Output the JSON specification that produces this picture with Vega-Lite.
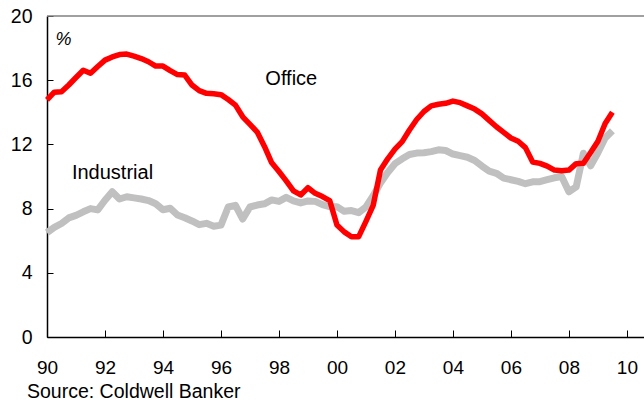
{
  "$schema": "https://vega.github.io/schema/vega-lite/v6.json",
  "width": 597,
  "height": 321,
  "autosize": {"type": "none"},
  "padding": {"left": 47, "top": 16, "right": 0, "bottom": 68},
  "config": {"view": {"stroke": null}, "font": "Liberation Sans"},
  "title": {"text": "Source: Coldwell Banker", "orient": "bottom", "anchor": "start", "frame": "group", "font": "Liberation Sans", "fontSize": 19.5, "fontWeight": "normal", "color": "black", "offset": 6, "dx": -20},
  "data": {"values": [
    {"t": 1990.0, "o": 14.77, "i": 6.5},
    {"t": 1990.25, "o": 15.25, "i": 6.83},
    {"t": 1990.5, "o": 15.28, "i": 7.07},
    {"t": 1990.75, "o": 15.7, "i": 7.42},
    {"t": 1991.0, "o": 16.17, "i": 7.58},
    {"t": 1991.25, "o": 16.62, "i": 7.8},
    {"t": 1991.5, "o": 16.43, "i": 8.0},
    {"t": 1991.75, "o": 16.85, "i": 7.92},
    {"t": 1992.0, "o": 17.25, "i": 8.52},
    {"t": 1992.25, "o": 17.45, "i": 9.05},
    {"t": 1992.5, "o": 17.6, "i": 8.6},
    {"t": 1992.75, "o": 17.63, "i": 8.74},
    {"t": 1993.0, "o": 17.5, "i": 8.67},
    {"t": 1993.25, "o": 17.35, "i": 8.6},
    {"t": 1993.5, "o": 17.15, "i": 8.5},
    {"t": 1993.75, "o": 16.88, "i": 8.3},
    {"t": 1994.0, "o": 16.88, "i": 7.93},
    {"t": 1994.25, "o": 16.6, "i": 8.02},
    {"t": 1994.5, "o": 16.35, "i": 7.6},
    {"t": 1994.75, "o": 16.32, "i": 7.43},
    {"t": 1995.0, "o": 15.7, "i": 7.23},
    {"t": 1995.25, "o": 15.35, "i": 7.0},
    {"t": 1995.5, "o": 15.18, "i": 7.08},
    {"t": 1995.75, "o": 15.15, "i": 6.9},
    {"t": 1996.0, "o": 15.1, "i": 6.97},
    {"t": 1996.25, "o": 14.8, "i": 8.1},
    {"t": 1996.5, "o": 14.45, "i": 8.2},
    {"t": 1996.75, "o": 13.72, "i": 7.35},
    {"t": 1997.0, "o": 13.25, "i": 8.1},
    {"t": 1997.25, "o": 12.77, "i": 8.22},
    {"t": 1997.5, "o": 11.87, "i": 8.3},
    {"t": 1997.75, "o": 10.85, "i": 8.54},
    {"t": 1998.0, "o": 10.31, "i": 8.45},
    {"t": 1998.25, "o": 9.73, "i": 8.7},
    {"t": 1998.5, "o": 9.1, "i": 8.48},
    {"t": 1998.75, "o": 8.85, "i": 8.35},
    {"t": 1999.0, "o": 9.3, "i": 8.48},
    {"t": 1999.25, "o": 8.95, "i": 8.45},
    {"t": 1999.5, "o": 8.75, "i": 8.25},
    {"t": 1999.75, "o": 8.5, "i": 8.12},
    {"t": 2000.0, "o": 6.98, "i": 8.12},
    {"t": 2000.25, "o": 6.55, "i": 7.83},
    {"t": 2000.5, "o": 6.25, "i": 7.88},
    {"t": 2000.75, "o": 6.25, "i": 7.75},
    {"t": 2001.0, "o": 7.2, "i": 8.1},
    {"t": 2001.25, "o": 8.2, "i": 8.8},
    {"t": 2001.5, "o": 10.4, "i": 9.6},
    {"t": 2001.75, "o": 11.1, "i": 10.25},
    {"t": 2002.0, "o": 11.7, "i": 10.8},
    {"t": 2002.25, "o": 12.17, "i": 11.1},
    {"t": 2002.5, "o": 12.9, "i": 11.37},
    {"t": 2002.75, "o": 13.55, "i": 11.46},
    {"t": 2003.0, "o": 14.05, "i": 11.48},
    {"t": 2003.25, "o": 14.4, "i": 11.55},
    {"t": 2003.5, "o": 14.5, "i": 11.66},
    {"t": 2003.75, "o": 14.56, "i": 11.62},
    {"t": 2004.0, "o": 14.7, "i": 11.4},
    {"t": 2004.25, "o": 14.6, "i": 11.3},
    {"t": 2004.5, "o": 14.4, "i": 11.2},
    {"t": 2004.75, "o": 14.2, "i": 11.0},
    {"t": 2005.0, "o": 13.9, "i": 10.65},
    {"t": 2005.25, "o": 13.5, "i": 10.33},
    {"t": 2005.5, "o": 13.1, "i": 10.2},
    {"t": 2005.75, "o": 12.75, "i": 9.9},
    {"t": 2006.0, "o": 12.4, "i": 9.8},
    {"t": 2006.25, "o": 12.2, "i": 9.7},
    {"t": 2006.5, "o": 11.8, "i": 9.55},
    {"t": 2006.75, "o": 10.9, "i": 9.67},
    {"t": 2007.0, "o": 10.82, "i": 9.68},
    {"t": 2007.25, "o": 10.65, "i": 9.8},
    {"t": 2007.5, "o": 10.4, "i": 9.92},
    {"t": 2007.75, "o": 10.36, "i": 10.0},
    {"t": 2008.0, "o": 10.4, "i": 9.05},
    {"t": 2008.25, "o": 10.8, "i": 9.35},
    {"t": 2008.5, "o": 10.82, "i": 11.45},
    {"t": 2008.75, "o": 11.5, "i": 10.67},
    {"t": 2009.0, "o": 12.2, "i": 11.48},
    {"t": 2009.25, "o": 13.3, "i": 12.4},
    {"t": 2009.5, "o": 14.0, "i": 12.85}
  ]},
  "layer": [
    {
      "data": {"values": [{}]},
      "mark": {"type": "rule", "color": "#808080", "strokeWidth": 1.5},
      "encoding": {"y": {"datum": 20, "type": "quantitative"}}
    },
    {
      "mark": {"type": "line", "color": "#c0c0c0", "strokeWidth": 7, "strokeJoin": "round"},
      "encoding": {
        "x": {"field": "t", "type": "quantitative", "scale": {"domain": [1990, 2010.59], "nice": false, "zero": false},
          "axis": {"values": [1990,1991,1992,1993,1994,1995,1996,1997,1998,1999,2000,2001,2002,2003,2004,2005,2006,2007,2008,2009,2010],
            "labelExpr": "datum.value % 2 == 0 ? slice(toString(datum.value), 2) : ''",
            "tickSize": {"condition": {"test": "datum.value % 2 == 0", "value": -7}, "value": -5},
            "title": null, "grid": false, "domainColor": "black", "domainWidth": 1.5, "tickColor": "black", "tickWidth": 1,
            "labelColor": "black", "labelFontSize": 19, "labelFont": "Liberation Sans", "labelPadding": 28, "labelFlush": false, "labelOverlap": false}},
        "y": {"field": "i", "type": "quantitative", "scale": {"domain": [0, 20], "nice": false},
          "axis": {"values": [0,2,4,6,8,10,12,14,16,18,20],
            "labelExpr": "datum.value % 4 == 0 ? datum.label : ''",
            "tickSize": -6, "title": null, "grid": false, "domainColor": "black", "domainWidth": 1.5, "tickColor": "black", "tickWidth": 1,
            "labelColor": "black", "labelFontSize": 19.5, "labelFont": "Liberation Sans", "labelPadding": 21, "labelFlush": false, "labelOverlap": false}}
      }
    },
    {
      "mark": {"type": "line", "color": "#ff0000", "strokeWidth": 5.5, "strokeJoin": "round"},
      "encoding": {
        "x": {"field": "t", "type": "quantitative"},
        "y": {"field": "o", "type": "quantitative"}
      }
    },
    {
      "data": {"values": [{}]},
      "mark": {"type": "text", "text": "Office", "align": "left", "baseline": "middle", "fontSize": 20, "font": "Liberation Sans", "color": "black"},
      "encoding": {"x": {"datum": 1997.53, "type": "quantitative"}, "y": {"datum": 16.05, "type": "quantitative"}}
    },
    {
      "data": {"values": [{}]},
      "mark": {"type": "text", "text": "Industrial", "align": "left", "baseline": "middle", "fontSize": 20, "font": "Liberation Sans", "color": "black"},
      "encoding": {"x": {"datum": 1990.86, "type": "quantitative"}, "y": {"datum": 10.2, "type": "quantitative"}}
    },
    {
      "data": {"values": [{}]},
      "mark": {"type": "text", "text": "%", "align": "left", "baseline": "middle", "fontSize": 18, "fontStyle": "italic", "font": "Liberation Sans", "color": "black"},
      "encoding": {"x": {"datum": 1990.29, "type": "quantitative"}, "y": {"datum": 18.5, "type": "quantitative"}}
    }
  ]
}
